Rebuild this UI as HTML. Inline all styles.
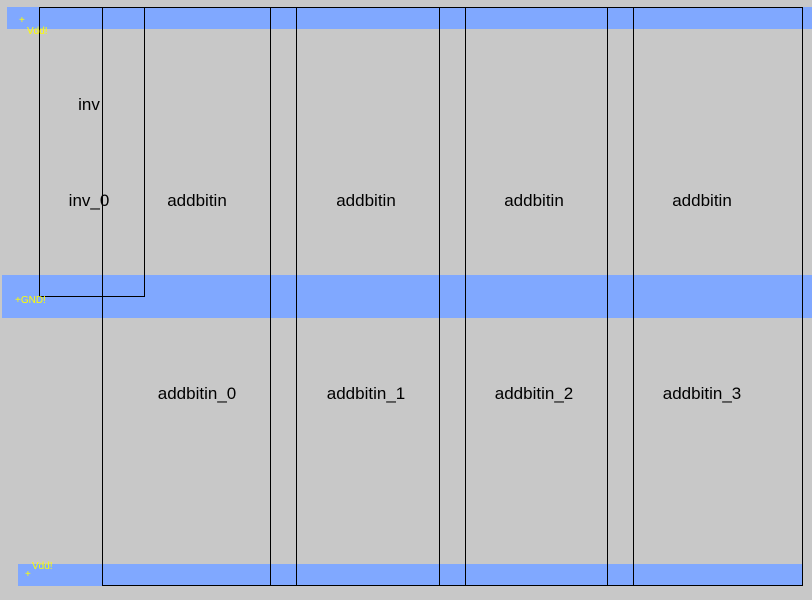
<!DOCTYPE html>
<html><head><style>
body{margin:0;width:812px;height:600px;background:#c8c8c8;position:relative;overflow:hidden;font-family:"Liberation Sans",sans-serif}
.b{position:absolute;background:#80a8ff}
.r{position:absolute;border:1px solid #000;box-sizing:border-box}
.t{position:absolute;font-size:17px;color:#000;white-space:nowrap;transform:translateX(-50%)}
.y{position:absolute;color:#ff0;font-size:10px;white-space:nowrap}
</style></head><body>
<div class="b" style="left:7px;top:7px;width:805px;height:22px"></div>
<div class="b" style="left:2px;top:275px;width:810px;height:43px"></div>
<div class="b" style="left:18px;top:564px;width:784px;height:22px"></div>
<div class="r" style="left:39px;top:7px;width:106px;height:290px"></div>
<div class="r" style="left:102px;top:7px;width:169px;height:579px"></div>
<div class="r" style="left:270px;top:7px;width:27px;height:579px"></div>
<div class="r" style="left:296px;top:7px;width:144px;height:579px"></div>
<div class="r" style="left:439px;top:7px;width:27px;height:579px"></div>
<div class="r" style="left:465px;top:7px;width:143px;height:579px"></div>
<div class="r" style="left:607px;top:7px;width:27px;height:579px"></div>
<div class="r" style="left:633px;top:7px;width:170px;height:579px"></div>
<div class="t" style="left:89px;top:95px">inv</div>
<div class="t" style="left:89px;top:191px">inv_0</div>
<div class="t" style="left:197px;top:191px">addbitin</div>
<div class="t" style="left:366px;top:191px">addbitin</div>
<div class="t" style="left:534px;top:191px">addbitin</div>
<div class="t" style="left:702px;top:191px">addbitin</div>
<div class="t" style="left:197px;top:384px">addbitin_0</div>
<div class="t" style="left:366px;top:384px">addbitin_1</div>
<div class="t" style="left:534px;top:384px">addbitin_2</div>
<div class="t" style="left:702px;top:384px">addbitin_3</div>
<div class="y" style="left:19px;top:15px">+</div>
<div class="y" style="left:27px;top:26px">Vdd!</div>
<div class="y" style="left:15px;top:295px">+GND!</div>
<div class="y" style="left:32px;top:561px">Vdd!</div>
<div class="y" style="left:25px;top:569px">+</div>
</body></html>
